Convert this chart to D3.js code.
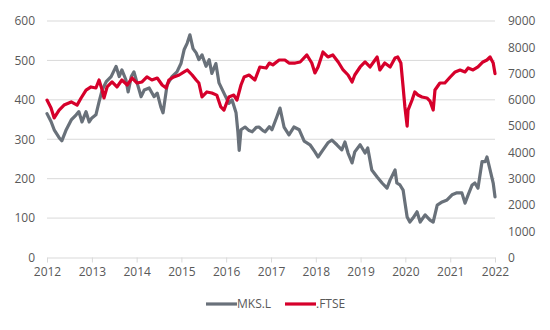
<!DOCTYPE html>
<html>
<head>
<meta charset="utf-8">
<script src="https://cdn.jsdelivr.net/npm/d3@7"></script>
<style>
  html, body { margin: 0; padding: 0; background: #fff; }
  svg text { font-family: "Open Sans", "Liberation Sans", sans-serif; fill: #595959; }
</style>
</head>
<body>
<svg id="chart" width="550" height="330"></svg>
<script>
// ---- data (dates as decimal years) ----
const xTickLabels = ["2012","2013","2014","2015","2016","2017","2018","2019","2020","2021","2022"];
const leftTicks = [0,100,200,300,400,500,600];
const rightTicks = [0,1000,2000,3000,4000,5000,6000,7000,8000,9000];
const seriesNames = ["MKS.L", ".FTSE"];

const mksYears = [
  2012.00,2012.09,2012.16,2012.27,2012.33,2012.42,2012.54,2012.65,2012.71,2012.78,
  2012.87,2012.94,2013.00,2013.09,2013.16,2013.23,2013.32,2013.43,2013.54,2013.61,
  2013.67,2013.76,2013.81,2013.88,2013.94,2014.01,2014.10,2014.17,2014.28,2014.39,
  2014.46,2014.54,2014.59,2014.68,2014.79,2014.90,2014.99,2015.06,2015.13,2015.19,
  2015.26,2015.33,2015.39,2015.46,2015.55,2015.62,2015.68,2015.77,2015.84,2015.95,
  2016.06,2016.13,2016.22,2016.26,2016.29,2016.33,2016.42,2016.51,2016.58,2016.67,
  2016.73,2016.82,2016.87,2016.96,2017.02,2017.13,2017.20,2017.29,2017.40,2017.51,
  2017.63,2017.74,2017.87,2017.98,2018.05,2018.16,2018.27,2018.36,2018.47,2018.58,
  2018.65,2018.72,2018.81,2018.87,2018.99,2019.10,2019.16,2019.25,2019.37,2019.48,
  2019.59,2019.66,2019.77,2019.81,2019.88,2019.95,2019.99,2020.04,2020.10,2020.17,
  2020.26,2020.33,2020.44,2020.55,2020.62,2020.71,2020.82,2020.93,2021.04,2021.15,
  2021.26,2021.33,2021.40,2021.49,2021.55,2021.62,2021.71,2021.78,2021.82,2021.89,
  2021.96,2022.00];
const mksValues = [
  365,345,324,304,296,322,349,362,370,344,
  370,344,354,362,395,425,446,459,485,459,
  476,451,420,459,471,443,408,425,430,408,
  417,382,367,438,459,471,492,527,544,565,
  530,519,502,514,485,502,467,492,443,417,
  391,400,367,320,272,324,331,322,319,330,
  331,322,319,332,324,357,379,331,311,331,
  324,295,286,268,255,273,291,298,286,273,
  293,265,240,268,286,265,278,222,204,189,
  176,197,222,189,184,171,140,103,90,100,
  116,90,108,95,90,133,141,146,159,164,
  164,138,159,184,189,176,243,243,255,222,
  189,154];

const ftseYears = [
  2012.00,2012.09,2012.16,2012.27,2012.38,2012.54,2012.67,2012.76,2012.87,2012.98,
  2013.09,2013.16,2013.23,2013.27,2013.34,2013.45,2013.56,2013.67,2013.79,2013.90,
  2014.01,2014.12,2014.23,2014.34,2014.46,2014.57,2014.66,2014.72,2014.83,2014.95,
  2015.06,2015.13,2015.24,2015.33,2015.39,2015.46,2015.57,2015.68,2015.79,2015.88,
  2015.95,2016.06,2016.17,2016.24,2016.33,2016.40,2016.51,2016.64,2016.75,2016.89,
  2016.96,2017.04,2017.18,2017.31,2017.40,2017.54,2017.65,2017.80,2017.91,2017.98,
  2018.05,2018.16,2018.27,2018.38,2018.50,2018.61,2018.72,2018.81,2018.87,2018.99,
  2019.10,2019.21,2019.37,2019.43,2019.54,2019.66,2019.77,2019.83,2019.90,2019.95,
  2019.99,2020.04,2020.06,2020.15,2020.21,2020.28,2020.37,2020.48,2020.55,2020.62,
  2020.66,2020.77,2020.88,2021.00,2021.11,2021.22,2021.33,2021.40,2021.51,2021.62,
  2021.73,2021.82,2021.89,2021.96,2022.00];
const ftseValues = [
  5990,5690,5310,5610,5800,5920,5800,6070,6370,6490,
  6450,6755,6370,6070,6490,6680,6490,6755,6565,6830,
  6640,6680,6870,6755,6830,6565,6450,6755,6870,6945,
  7060,7136,6945,6755,6640,6110,6300,6260,6180,5730,
  5610,6110,6180,5990,6565,6870,6945,6755,7250,7210,
  7400,7330,7516,7516,7400,7400,7440,7707,7402,7022,
  7250,7820,7631,7707,7440,7136,6945,6679,6945,7250,
  7440,7250,7631,7136,7402,7250,7593,7631,7402,6488,
  5727,5000,5612,5993,6298,6184,6108,6070,5950,5612,
  6374,6641,6641,6869,7060,7136,7060,7212,7136,7250,
  7440,7516,7631,7402,7000];

// ---- helpers ----
function toDate(dy) {
  const yr = Math.floor(dy + 1e-9);
  const s = new Date(yr, 0, 1), e = new Date(yr + 1, 0, 1);
  return new Date(+s + (dy - yr) * (e - s));
}
const mks = mksYears.map((d, i) => ({ date: toDate(d), value: mksValues[i] }));
const ftse = ftseYears.map((d, i) => ({ date: toDate(d), value: ftseValues[i] }));

const svg = d3.select("#chart");
const plotLeft = 47, plotRight = 495, plotTop = 21, plotBottom = 257.5;

const x = d3.scaleTime().domain([new Date(2012,0,1), new Date(2022,0,1)]).range([plotLeft, plotRight]);
const yL = d3.scaleLinear().domain([0, 600]).range([plotBottom, plotTop]);
const yR = d3.scaleLinear().domain([0, 9000]).range([plotBottom, plotTop]);

const gridColor = "#d9d9d9";
const textColor = "#595959";

// gridlines
svg.append("g").selectAll("line").data(leftTicks.filter(d => d > 0)).join("line")
  .attr("x1", plotLeft).attr("x2", plotRight)
  .attr("y1", d => yL(d)).attr("y2", d => yL(d))
  .attr("stroke", gridColor).attr("stroke-width", 1);

// x axis
const xAxis = d3.axisBottom(x)
  .tickValues(xTickLabels.map(t => new Date(+t, 0, 1)))
  .tickFormat(d3.timeFormat("%Y"))
  .tickSizeInner(5).tickSizeOuter(0).tickPadding(5);
const gx = svg.append("g").attr("transform", `translate(0,${plotBottom})`).call(xAxis);
gx.select(".domain").attr("stroke", gridColor);
gx.selectAll(".tick line").attr("stroke", gridColor);
gx.selectAll(".tick text").attr("font-size", 12).attr("fill", textColor)
  .style("font-family", '"Open Sans", sans-serif');

// left axis
const yAxisL = d3.axisLeft(yL).tickValues(leftTicks).tickFormat(d3.format("d")).tickSize(0).tickPadding(12);
const gl = svg.append("g").attr("transform", `translate(${plotLeft},0)`).call(yAxisL);
gl.select(".domain").remove();
gl.selectAll(".tick text").attr("font-size", 12).attr("fill", textColor)
  .style("font-family", '"Open Sans", sans-serif');

// right axis
const yAxisR = d3.axisRight(yR).tickValues(rightTicks).tickFormat(d3.format("d")).tickSize(0).tickPadding(13);
const gr = svg.append("g").attr("transform", `translate(${plotRight},0)`).call(yAxisR);
gr.select(".domain").remove();
gr.selectAll(".tick text").attr("font-size", 12).attr("fill", textColor)
  .style("font-family", '"Open Sans", sans-serif');

// lines
const colors = { mks: "#69717a", ftse: "#d6002b" };
const lineL = d3.line().x(d => x(d.date)).y(d => yL(d.value)).curve(d3.curveLinear);
const lineR = d3.line().x(d => x(d.date)).y(d => yR(d.value)).curve(d3.curveLinear);

svg.append("path").datum(mks).attr("d", lineL)
  .attr("fill", "none").attr("stroke", colors.mks).attr("stroke-width", 3.2)
  .attr("stroke-linejoin", "round").attr("stroke-linecap", "round");
svg.append("path").datum(ftse).attr("d", lineR)
  .attr("fill", "none").attr("stroke", colors.ftse).attr("stroke-width", 3.2)
  .attr("stroke-linejoin", "round").attr("stroke-linecap", "round");

// legend
const legend = svg.append("g");
const legItems = [
  { name: seriesNames[0], color: colors.mks, x: 206 },
  { name: seriesNames[1], color: colors.ftse, x: 285 }
];
legItems.forEach(it => {
  legend.append("line").attr("x1", it.x).attr("x2", it.x + 31)
    .attr("y1", 304).attr("y2", 304)
    .attr("stroke", it.color).attr("stroke-width", 3.2);
  legend.append("text").attr("x", it.x + 31).attr("y", 308)
    .attr("font-size", 12).text(it.name);
});
</script>
</body>
</html>
